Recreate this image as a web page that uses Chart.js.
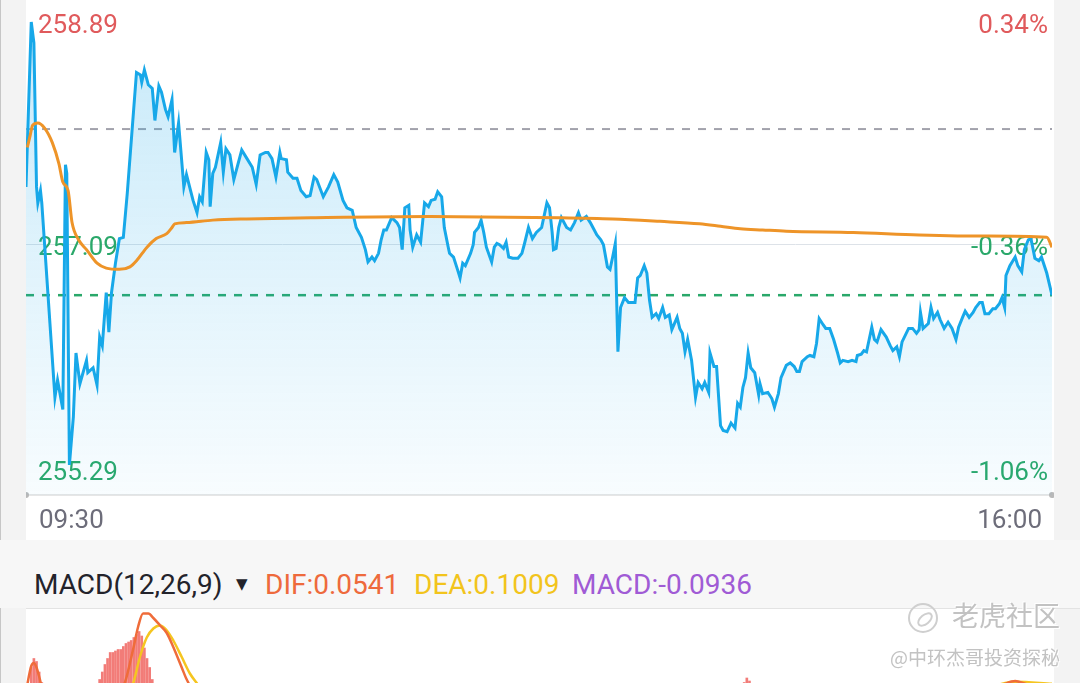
<!DOCTYPE html>
<html lang="zh">
<head>
<meta charset="utf-8">
<title>分时图 MACD</title>
<script src="https://cdn.jsdelivr.net/npm/chart.js@4.4.1/dist/chart.umd.min.js"></script>
<style>
  html, body { margin: 0; padding: 0; }
  body { width: 1080px; height: 683px; overflow: hidden; position: relative; background: #f3f3f3; font-family: Roboto, "Noto Sans", sans-serif; }
  .edge { position: absolute; left: 0; top: 0; width: 1px; height: 683px; background: #c6c6c6; }
  #pricePanel { position: absolute; left: 26px; top: 0; width: 1028px; height: 540px; background: #fff; }
  #macdHead { position: absolute; left: 0; top: 540px; width: 1080px; height: 68px; background: #f7f7f7; }
  #macdHead span { position: absolute; top: 25px; line-height: 40px; font-size: 28px; white-space: nowrap; }
  #macdRule { position: absolute; left: 26px; top: 608px; width: 1054px; height: 1px; background: #e3e3e3; }
  #macdPanel { position: absolute; left: 26px; top: 609px; width: 1028px; height: 180px; background: #fff; }
  .wm { position: absolute; color: #c2c2c2; white-space: nowrap; font-family: "Noto Sans CJK SC", sans-serif; text-shadow: 1px 1px 0 #fff, -1px -1px 0 #fff; }
  #wmLogo { position: absolute; left: 908px; top: 603px; width: 26px; height: 26px; border: 2px solid #cfcfcf; border-radius: 50%; }
  #wmLogo i { position: absolute; left: 6px; top: 9px; width: 14px; height: 7px; border: 2px solid #cfcfcf; border-radius: 50%; transform: rotate(-40deg); }
</style>
</head>
<body>
<div class="edge"></div>
<div id="pricePanel"><canvas id="priceChart"></canvas></div>
<div id="macdHead">
  <span style="left:34px;color:#23232b">MACD(12,26,9)</span>
  <span style="left:236px;top:24px;font-size:15px;color:#23232b;font-family:'DejaVu Sans'">▼</span>
  <span id="difText" style="left:265px;color:#ee6a3c"></span>
  <span id="deaText" style="left:414px;color:#f2c41c"></span>
  <span id="macdText" style="left:572px;color:#a05bd5"></span>
</div>
<div id="macdRule"></div>
<div id="macdPanel"><canvas id="macdChart"></canvas></div>
<div id="wmLogo"><i></i></div>
<div class="wm" style="left:952px;top:599px;font-size:27px;line-height:32px">老虎社区</div>
<div class="wm" style="left:890px;top:646px;font-size:19px;line-height:22px">@中环杰哥投资探秘</div>

<script>
// Intraday price chart (09:30-16:00) with average line, plus the top of the MACD pane.

const sessionMinutes = 390;
const timeLabels = ["09:30", "16:00"];

const priceTicks = [258.89, 257.09, 255.29];
const priceTickLabels = ["258.89", "257.09", "255.29"];
const pctTickLabels = ["0.34%", "-0.36%", "-1.06%"];
const prevClose = 258.02;
const lastPrice = 256.67;

// minutes after 09:30
const priceMinutes = [
  0, 2, 3, 4, 4.5, 5.5, 6, 11, 12, 14,
  15, 15.5, 16.5, 18, 19, 20.5, 23, 23.5, 25.5, 27,
  28, 29, 30.5, 31.5, 32.5, 34, 35.5, 37, 38.5, 42,
  43.5, 44, 45, 46.5, 48, 49, 50.5, 51.5, 53, 54,
  55.5, 56.5, 58, 60, 61, 63.5, 65, 66, 67, 68.5,
  69.5, 70, 71, 72, 74, 75, 76, 77.5, 79, 82,
  84, 86, 87.5, 89, 91, 92, 93.5, 95, 96.5, 97,
  99, 99.5, 101.5, 103, 104.5, 106.5, 108, 109.5, 110.5, 113,
  115, 117, 118.5, 120.5, 122, 124, 125.5, 127.5, 129, 130,
  131.5, 132.5, 134, 135, 136, 137, 139, 141, 142, 143,
  144, 145.5, 146, 147, 148.5, 150, 151.5, 153, 154, 155.5,
  156.5, 158, 159, 160.5, 161, 162.5, 164, 165, 166, 167,
  169, 170, 170.5, 172, 173, 174, 175, 177, 178, 179,
  180, 181.5, 182.5, 183.5, 185, 187, 188.5, 189.5, 191, 192.5,
  194, 196, 198, 199, 200, 200.5, 201.5, 202.5, 203.5, 205.5,
  207, 208.5, 210, 211, 213, 214.5, 215.5, 217, 218.5, 219.5,
  221, 222, 223, 224, 224.5, 225, 226, 227.5, 229, 230,
  231.5, 232.5, 233.5, 235, 236, 237, 238, 239.5, 240.5, 242,
  243, 244.5, 245.5, 247.5, 248.5, 249.5, 250.5, 251.5, 253, 254.5,
  255.5, 257, 258, 259.5, 260, 261.5, 262.5, 264, 265, 266.5,
  268, 269.5, 270.5, 271.5, 272.5, 273.5, 274.5, 275.5, 277, 278.5,
  279, 280, 282, 283.5, 284.5, 286, 287, 289, 290.5, 292,
  293, 294, 295, 297, 298, 299.5, 300.5, 301.5, 303, 304,
  305.5, 307, 308.5, 309.5, 310.5, 312.5, 314, 315.5, 316, 317.5,
  318.5, 319.5, 320.5, 321.5, 322.5, 323.5, 325, 327, 328.5, 329.5,
  331, 332, 333, 335.5, 337, 338.5, 339.5, 340, 341, 343,
  344, 345, 346.5, 347.5, 349, 350.5, 352, 353.5, 354.5, 356,
  357, 358.5, 360, 361, 362.5, 363.5, 364.5, 366, 367.5, 368.5,
  370, 371, 372, 372.5, 374, 376, 377, 378.5, 379.5, 381,
  382, 383.5, 385, 386, 388, 390
];
const priceValues = [
  257.55, 258.89, 258.72, 257.55, 257.42, 257.52, 257.42, 255.84, 255.98, 255.74,
  257.73, 257.66, 255.29, 255.68, 256.20, 255.95, 256.14, 256.04, 256.08, 255.94,
  256.33, 256.26, 256.69, 256.37, 256.69, 256.93, 257.13, 257.14, 257.50, 258.48,
  258.46, 258.40, 258.50, 258.38, 258.35, 258.09, 258.37, 258.32, 258.18, 258.12,
  258.26, 257.83, 258.07, 257.55, 257.65, 257.44, 257.34, 257.47, 257.43, 257.83,
  257.77, 257.39, 257.66, 257.71, 257.91, 257.67, 257.86, 257.81, 257.61, 257.85,
  257.78, 257.71, 257.57, 257.81, 257.83, 257.83, 257.78, 257.63, 257.83, 257.78,
  257.77, 257.67, 257.62, 257.62, 257.52, 257.47, 257.48, 257.63, 257.61, 257.47,
  257.55, 257.65, 257.59, 257.44, 257.38, 257.36, 257.22, 257.14, 257.04, 256.94,
  256.98, 256.95, 257.01, 257.12, 257.20, 257.20, 257.30, 257.26, 257.22, 257.04,
  257.38, 257.40, 257.20, 257.06, 257.16, 257.10, 257.42, 257.39, 257.44, 257.45,
  257.51, 257.47, 257.22, 257.06, 257.01, 256.98, 256.88, 256.81, 256.93, 256.91,
  257.01, 257.08, 257.18, 257.22, 257.28, 257.18, 257.06, 256.94, 257.06, 257.09,
  257.08, 257.05, 257.10, 256.98, 256.97, 256.97, 257.01, 257.09, 257.22, 257.13,
  257.18, 257.22, 257.42, 257.38, 257.18, 257.04, 257.05, 257.22, 257.30, 257.22,
  257.20, 257.26, 257.34, 257.28, 257.31, 257.26, 257.22, 257.16, 257.12, 257.08,
  256.90, 256.88, 256.98, 257.09, 256.65, 256.21, 256.57, 256.65, 256.61, 256.61,
  256.61, 256.81, 256.83, 256.91, 256.85, 256.63, 256.49, 256.52, 256.48, 256.57,
  256.49, 256.51, 256.39, 256.49, 256.40, 256.36, 256.21, 256.31, 256.14, 255.84,
  255.96, 255.91, 255.96, 255.88, 256.20, 256.09, 256.09, 255.61, 255.57, 255.56,
  255.63, 255.59, 255.79, 255.76, 255.92, 256.00, 256.20, 256.08, 256.04, 255.86,
  255.95, 255.87, 255.88, 255.83, 255.76, 255.87, 256.00, 256.10, 256.12, 256.09,
  256.05, 256.05, 256.13, 256.17, 256.18, 256.17, 256.28, 256.48, 256.43, 256.40,
  256.40, 256.31, 256.20, 256.12, 256.14, 256.13, 256.14, 256.13, 256.18, 256.19,
  256.22, 256.21, 256.31, 256.41, 256.31, 256.29, 256.39, 256.33, 256.26, 256.22,
  256.25, 256.17, 256.29, 256.40, 256.40, 256.36, 256.39, 256.53, 256.40, 256.44,
  256.57, 256.48, 256.53, 256.47, 256.40, 256.45, 256.40, 256.31, 256.41, 256.49,
  256.54, 256.49, 256.53, 256.57, 256.61, 256.61, 256.52, 256.52, 256.56, 256.56,
  256.60, 256.65, 256.57, 256.83, 256.91, 256.98, 256.91, 256.86, 257.04, 257.12,
  257.13, 256.97, 256.95, 256.98, 256.85, 256.67
];

const avgMinutes = [
  0.5, 1.5, 2.5, 4.5, 7, 10, 12.5, 14, 16, 17.5,
  20, 23, 27, 30.5, 35.5, 39.5, 42, 46, 49.5, 53.5,
  55.5, 56.5, 61, 71, 84, 109, 153.5, 203, 223, 241,
  256, 264, 271.5, 280, 289, 314.5, 339.5, 365, 388, 390
];
const avgValues = [
  257.87, 257.96, 258.05, 258.07, 258.03, 257.91, 257.74, 257.59, 257.52, 257.26,
  257.12, 257.04, 256.93, 256.89, 256.88, 256.90, 256.95, 257.06, 257.13, 257.17,
  257.22, 257.25, 257.26, 257.28, 257.29, 257.30, 257.31, 257.30, 257.29, 257.27,
  257.25, 257.23, 257.21, 257.20, 257.19, 257.18, 257.16, 257.15, 257.14, 257.06
];

// MACD pane (only its top strip is on screen)
const histMinutes = [
  1, 2, 3, 4, 5, 6,
  27, 28, 29, 30, 31, 32, 33, 34, 35, 36, 37, 38, 39, 40, 41, 42, 43, 44, 45, 46, 47, 48, 49,
  273, 274, 275
];
const histValues = [
  0.06, 0.21, 0.27, 0.25, 0.18, 0.11,
  0.09, 0.13, 0.18, 0.23, 0.27, 0.31, 0.31, 0.32, 0.33, 0.33, 0.35, 0.37, 0.38, 0.39, 0.41, 0.43, 0.45, 0.42, 0.34, 0.27, 0.21, 0.13, 0.06,
  0.11, 0.14, 0.12
];
const difMinutes = [0, 2, 3, 4, 5, 6, 10, 25, 34, 37.6, 40.7, 42.6, 44.5, 46.5, 48.4, 51, 53.5, 55.9, 59.2, 61.1, 66, 120, 250, 360, 372, 376, 380, 390];
const difValues = [0.05, 0.22, 0.24, 0.21, 0.15, 0.08, -0.10, -0.15, 0.0, 0.11, 0.33, 0.48, 0.57, 0.57, 0.54, 0.49, 0.44, 0.35, 0.21, 0.13, 0.0, -0.10, -0.10, 0.0, 0.10, 0.12, 0.10, 0.0541];
const deaMinutes = [0, 10, 30, 38, 40.8, 43.3, 45.9, 48.4, 50.9, 53.4, 56, 59.2, 62.3, 64.9, 70, 200, 360, 376, 390];
const deaValues = [0.0, 0.02, -0.05, 0.0, 0.107, 0.28, 0.41, 0.47, 0.49, 0.46, 0.39, 0.28, 0.17, 0.107, 0.0, -0.08, 0.05, 0.115, 0.1009];

const upColor = "#e05a5c";
const downColor = "#2aa86a";

function pts(xs, ys) {
  return xs.map((x, i) => ({ x, y: ys[i] }));
}

// grid line, bottom axis and the in-chart labels
const priceDecor = {
  id: "priceDecor",
  beforeDatasetsDraw(chart) {
    const { ctx, chartArea: area } = chart;
    const x = chart.scales.x;
    const y = chart.scales.y;
    ctx.save();

    const gy = Math.round(y.getPixelForValue(priceTicks[1])) + 0.5;
    ctx.strokeStyle = "#dde2e8";
    ctx.lineWidth = 1;
    ctx.beginPath();
    ctx.moveTo(area.left, gy);
    ctx.lineTo(area.right, gy);
    ctx.stroke();

    ctx.strokeStyle = "#e6e6e6";
    ctx.lineWidth = 2;
    ctx.beginPath();
    ctx.moveTo(area.left, area.bottom);
    ctx.lineTo(area.right, area.bottom);
    ctx.stroke();
    ctx.fillStyle = "#b8b8b8";
    [area.left, area.right].forEach(px => {
      ctx.beginPath();
      ctx.arc(px, area.bottom, 3, 0, Math.PI * 2);
      ctx.fill();
    });

    // top label hangs from the top edge, bottom label sits on the bottom edge,
    // the middle one is centred on its grid line
    ctx.font = "26px Roboto";
    ctx.textBaseline = "alphabetic";
    const last = priceTicks.length - 1;
    priceTicks.forEach((v, i) => {
      let base;
      if (i === 0) base = area.top + 33;
      else if (i === last) base = area.bottom - 15;
      else base = y.getPixelForValue(v) + 11;
      ctx.fillStyle = i === 0 ? upColor : downColor;
      ctx.textAlign = "left";
      ctx.fillText(priceTickLabels[i], area.left + 12, base);
      ctx.textAlign = "right";
      ctx.fillText(pctTickLabels[i], area.right - 4, base);
    });

    ctx.fillStyle = "#6d6d7a";
    ctx.textAlign = "left";
    ctx.fillText(timeLabels[0], x.getPixelForValue(0) + 13, area.bottom + 33);
    ctx.textAlign = "right";
    ctx.fillText(timeLabels[1], x.getPixelForValue(sessionMinutes) - 10, area.bottom + 33);
    ctx.restore();
  }
};

function priceFill(context) {
  const a = context.chart.chartArea;
  if (!a) return "rgba(24,166,232,0.12)";
  const g = context.chart.ctx.createLinearGradient(0, a.top, 0, a.bottom);
  g.addColorStop(0, "rgba(24,166,232,0.25)");
  g.addColorStop(1, "rgba(24,166,232,0.03)");
  return g;
}

new Chart(document.getElementById("priceChart"), {
  type: "line",
  data: {
    datasets: [
      {
        data: pts(avgMinutes, avgValues),
        borderColor: "#ee9428",
        borderWidth: 3,
        pointRadius: 0,
        cubicInterpolationMode: "monotone",
        fill: false
      },
      {
        data: pts(priceMinutes, priceValues),
        borderColor: "#17a8e9",
        borderWidth: 3,
        pointRadius: 0,
        tension: 0,
        fill: "start",
        backgroundColor: priceFill
      },
      {
        data: pts([0, sessionMinutes], [lastPrice, lastPrice]),
        borderColor: downColor,
        borderWidth: 2.5,
        borderDash: [8, 8],
        pointRadius: 0
      },
      {
        data: pts([0, sessionMinutes], [prevClose, prevClose]),
        borderColor: "#a2a2ac",
        borderWidth: 2,
        borderDash: [8, 8],
        pointRadius: 0
      }
    ]
  },
  options: {
    responsive: true,
    maintainAspectRatio: false,
    animation: false,
    layout: { padding: { left: 0, right: 2, top: 0, bottom: 45 } },
    plugins: { legend: { display: false }, tooltip: { enabled: false } },
    scales: {
      x: { type: "linear", min: 0, max: sessionMinutes, display: false },
      y: { min: 255.046, max: 259.069, display: false }
    }
  },
  plugins: [priceDecor]
});

// header values come from the last DIF / DEA points
const lastDif = difValues[difValues.length - 1];
const lastDea = deaValues[deaValues.length - 1];
document.getElementById("difText").textContent = "DIF:" + lastDif.toFixed(4);
document.getElementById("deaText").textContent = "DEA:" + lastDea.toFixed(4);
document.getElementById("macdText").textContent = "MACD:" + (2 * (lastDif - lastDea)).toFixed(4);

new Chart(document.getElementById("macdChart"), {
  data: {
    datasets: [
      {
        type: "line",
        data: pts(difMinutes, difValues),
        borderColor: "#ef6c3a",
        borderWidth: 2.5,
        pointRadius: 0,
        cubicInterpolationMode: "monotone"
      },
      {
        type: "line",
        data: pts(deaMinutes, deaValues),
        borderColor: "#f5c520",
        borderWidth: 2.5,
        pointRadius: 0,
        cubicInterpolationMode: "monotone"
      },
      {
        type: "bar",
        data: pts(histMinutes, histValues),
        backgroundColor: "#f27c78",
        barThickness: 2
      }
    ]
  },
  options: {
    responsive: true,
    maintainAspectRatio: false,
    animation: false,
    layout: { padding: { left: 0, right: 2, top: 0, bottom: 0 } },
    plugins: { legend: { display: false }, tooltip: { enabled: false } },
    scales: {
      x: { type: "linear", offset: false, min: 0, max: sessionMinutes, display: false },
      y: { min: -0.6, max: 0.6, display: false }
    }
  }
});
</script>
</body>
</html>
